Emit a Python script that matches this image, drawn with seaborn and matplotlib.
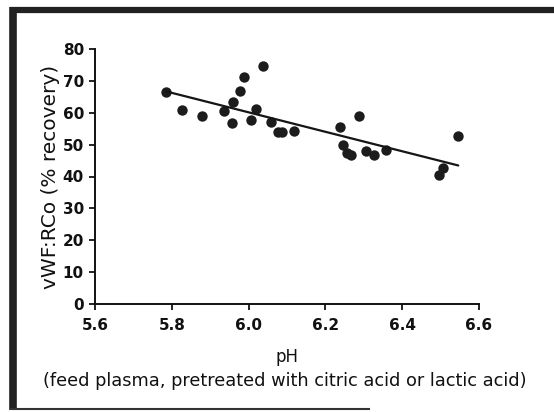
import matplotlib
matplotlib.use("Agg")
import matplotlib.pyplot as plt
import seaborn as sns
from matplotlib.lines import Line2D

# pH of feed plasma vs vWF:RCo recovery
ph = [5.785, 5.827, 5.878, 5.937, 5.959, 5.958, 5.978, 5.988, 6.038,
      6.018, 6.007, 6.058, 6.077, 6.088, 6.117, 6.239, 6.288, 6.245,
      6.255, 6.267, 6.306, 6.327, 6.357, 6.495, 6.505, 6.546]
recovery = [66.5, 60.9, 59.1, 60.6, 63.3, 56.8, 66.7, 71.1, 74.7,
            61.3, 57.6, 57.1, 53.9, 54.1, 54.3, 55.5, 59.0, 49.8,
            47.4, 46.6, 47.9, 46.8, 48.4, 40.6, 42.7, 52.6]

x_ticks = [5.6, 5.8, 6.0, 6.2, 6.4, 6.6]
y_ticks = [0, 10, 20, 30, 40, 50, 60, 70, 80]

sns.set_style("ticks")
plt.rcParams['font.family'] = ['DejaVu Sans']

fig = plt.figure(figsize=(5.54, 4.12), dpi=100)
ax = fig.add_axes([95 / 554, 1 - 304 / 412, (479 - 95) / 554, (304 - 49) / 412])

sns.regplot(x=ph, y=recovery, ax=ax, ci=None, truncate=True,
            scatter_kws={'s': 56, 'color': '#1c1c1c', 'linewidths': 0, 'alpha': 1},
            line_kws={'color': '#151515', 'lw': 1.6})

ax.set_xlim(5.6, 6.6)
ax.set_ylim(0, 80)
ax.set_xticks(x_ticks)
ax.set_xticklabels([f"{t:.1f}" for t in x_ticks])
ax.set_yticks(y_ticks)
ax.tick_params(direction='out', length=4, width=1.3, colors='#111', labelsize=11, pad=4)
for lab in ax.get_xticklabels() + ax.get_yticklabels():
    lab.set_fontweight('bold')
ax.tick_params(axis='x', pad=6)
sns.despine(ax=ax)
for side in ['left', 'bottom']:
    ax.spines[side].set_linewidth(1.4)
    ax.spines[side].set_color('#111')

ax.set_xlabel('')
ax.set_ylabel('vWF:RCo (% recovery)', fontsize=14.5, color='#111', labelpad=2)

fig.text(287 / 554, 1 - 357 / 412, 'pH', ha='center', va='center', fontsize=12, color='#111')
fig.text(285 / 554, 1 - 381 / 412, '(feed plasma, pretreated with citric acid or lactic acid)',
         ha='center', va='center', fontsize=12.8, color='#111')

# frame around the figure (left, top thick; bottom thin)
fig.add_artist(Line2D([13 / 554, 13 / 554], [1 - 410 / 412, 1 - 7 / 412], transform=fig.transFigure,
                      color='#222', lw=5.5, solid_capstyle='butt'))
fig.add_artist(Line2D([10 / 554, 1.0], [1 - 10 / 412, 1 - 10 / 412], transform=fig.transFigure,
                      color='#222', lw=4.5, solid_capstyle='butt'))
fig.add_artist(Line2D([10 / 554, 370 / 554], [1 - 409 / 412, 1 - 409 / 412], transform=fig.transFigure,
                      color='#333', lw=1.5, solid_capstyle='butt'))

fig.savefig('out.png', dpi=100)
